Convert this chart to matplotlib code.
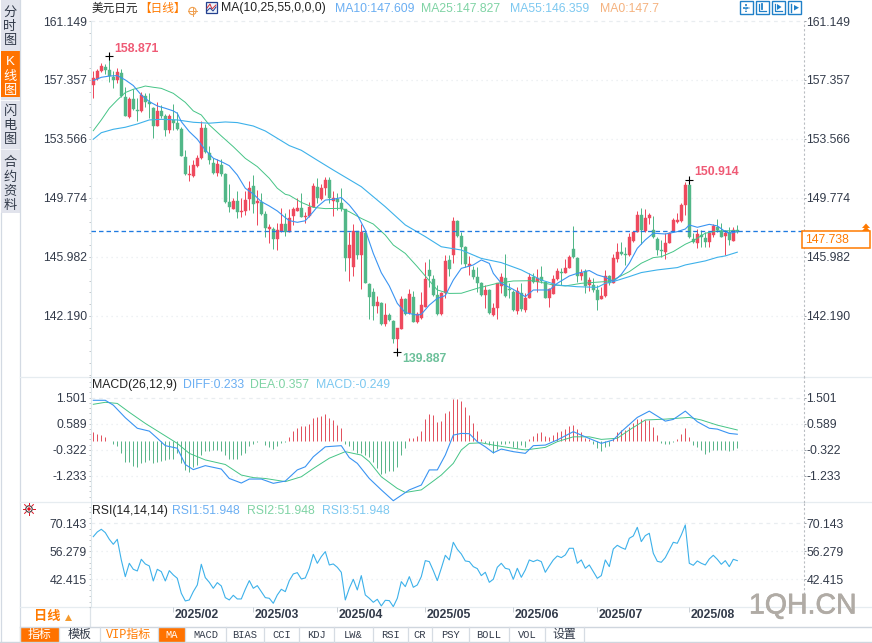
import numpy as np
import matplotlib
matplotlib.use('Agg')
import matplotlib.pyplot as plt
import matplotlib.patheffects as pe
from matplotlib.patches import Rectangle, Circle, Polygon
from matplotlib.transforms import ScaledTranslation

plt.rcParams['font.family'] = ['Liberation Sans', 'Noto Sans CJK SC', 'DejaVu Sans']
plt.rcParams['axes.unicode_minus'] = False

# ------------------------------------------------------------------ data
opens = [157.04,157.40,157.92,158.17,158.00,157.57,157.36,157.79,156.24,154.98,
 156.12,155.43,155.37,156.35,155.97,155.54,154.42,155.39,155.06,154.14,
 154.79,154.62,154.21,152.43,151.25,151.19,151.85,152.37,154.30,152.69,
 152.05,151.40,151.90,151.32,149.50,149.09,149.58,148.90,148.94,149.71,
 150.55,149.43,149.54,148.75,147.78,147.76,147.14,147.63,148.08,147.61,
 148.62,148.96,149.11,148.57,148.62,149.21,150.50,149.71,150.43,150.93,
 149.60,149.71,149.43,149.05,145.89,145.36,147.65,146.11,147.55,144.25,
 143.75,142.83,143.05,141.68,142.25,141.89,140.71,141.37,143.28,142.36,
 143.43,141.82,142.04,142.79,145.14,144.54,143.54,142.32,143.69,145.79,
 146.11,148.29,147.33,146.60,145.40,145.15,144.72,144.33,143.54,143.86,
 142.25,142.71,144.12,144.65,143.90,143.71,142.53,143.69,142.57,143.37,
 144.72,144.35,144.72,144.40,143.33,143.61,144.57,145.04,144.97,145.30,
 146.50,145.89,144.76,145.08,144.18,144.18,143.86,143.26,143.48,144.76,
 144.33,145.83,146.33,146.15,146.11,147.01,147.61,148.68,147.68,148.47,
 147.72,147.14,146.43,146.28,146.90,147.68,148.23,148.32,149.33,150.61,
 147.14,146.90,147.40,147.23,146.97,147.40,147.93,147.68,147.33,147.57,
 147.03,147.72]
closes = [157.49,157.94,158.26,158.00,157.62,157.36,157.85,156.35,155.06,156.14,
 155.49,155.39,156.39,155.97,155.82,154.40,155.37,155.04,154.14,155.06,
 154.62,154.21,152.50,151.30,151.30,151.90,152.37,154.30,152.71,152.22,
 151.40,151.96,151.32,149.54,149.22,149.58,148.90,148.94,149.65,150.44,
 149.39,149.60,148.75,147.87,147.91,147.14,147.70,148.12,147.61,148.47,
 149.05,149.11,148.53,148.62,149.21,150.54,149.75,150.43,150.93,149.75,
 149.80,149.49,149.05,145.94,146.75,147.65,146.11,147.61,144.33,143.43,
 142.83,143.11,141.68,142.25,141.94,140.69,141.44,143.28,142.32,143.58,
 141.82,142.32,142.89,144.54,144.76,143.54,142.30,143.64,145.72,145.19,
 148.29,147.33,146.60,145.53,145.53,144.67,144.33,143.54,143.86,142.36,
 142.69,144.29,144.72,143.48,143.86,142.57,143.80,142.62,143.37,144.72,
 144.35,144.65,144.44,143.37,143.91,144.57,145.08,144.93,145.30,146.00,
 145.96,144.76,144.97,144.14,144.50,143.86,143.22,143.48,144.76,144.29,
 145.90,146.33,146.18,146.11,147.25,147.61,148.68,147.72,148.47,148.68,
 147.25,146.43,146.39,146.86,147.55,148.36,148.36,149.33,150.61,147.25,
 146.97,147.44,147.25,146.97,147.55,147.98,147.72,147.29,147.50,147.08,
 147.72,147.57]
highs = [157.96,158.04,158.47,158.39,158.87,157.96,158.11,158.07,156.93,156.29,
 156.76,156.18,156.61,156.50,156.50,155.64,155.97,155.75,155.15,155.15,
 155.79,155.32,154.36,152.86,151.90,152.22,152.54,154.72,154.53,153.12,
 152.32,152.26,152.26,151.36,150.67,149.75,150.25,149.75,150.25,150.89,
 151.23,150.29,150.07,148.96,148.08,147.93,148.15,149.11,148.79,149.05,
 149.17,149.80,150.07,148.89,149.54,150.71,151.03,150.67,151.10,151.10,
 150.22,150.07,150.39,149.05,147.61,148.08,147.65,148.08,147.71,144.33,
 143.97,143.47,143.11,143.00,142.36,141.94,141.44,143.47,143.37,143.90,
 143.82,142.47,143.75,145.64,145.85,144.82,144.18,143.75,146.11,146.11,
 148.57,148.36,147.61,146.69,146.04,145.40,145.36,144.40,144.18,143.90,
 143.00,144.33,144.97,146.17,144.29,143.86,144.07,144.29,143.65,144.93,
 144.93,145.19,145.40,144.40,143.97,144.82,145.30,145.26,145.83,146.11,
 147.97,145.96,145.19,145.21,144.72,144.61,144.18,144.04,145.15,144.83,
 146.20,146.86,146.97,146.65,147.50,147.68,148.96,149.11,149.05,148.79,
 148.62,147.25,147.07,147.50,147.61,148.47,148.79,149.48,150.82,150.91,
 147.50,147.76,147.72,147.61,147.61,148.10,148.40,148.15,147.72,147.93,
 147.93,148.04]
lows = [156.22,157.36,157.87,157.74,157.25,156.87,157.14,156.29,155.06,154.94,
 155.43,154.72,155.32,155.64,154.94,153.65,154.40,154.89,153.78,153.93,
 154.14,154.14,152.47,151.25,150.89,151.15,151.79,152.28,152.64,151.96,
 151.30,151.21,151.21,149.47,148.90,149.05,148.51,148.57,148.68,149.00,
 148.79,148.04,148.68,147.29,146.90,146.50,146.43,147.61,147.33,147.61,
 148.04,148.94,148.53,148.15,148.57,149.17,149.43,149.64,149.96,149.43,
 148.64,149.00,148.96,145.08,144.44,144.76,145.85,143.93,144.29,142.00,
 141.94,142.36,141.61,141.57,141.89,140.43,139.89,141.33,142.25,142.32,
 141.78,141.76,142.00,142.75,144.07,143.48,142.26,142.26,143.32,144.76,
 145.62,147.29,145.53,145.32,144.82,144.57,143.75,143.48,142.69,142.32,
 142.21,142.00,143.65,143.43,143.33,142.53,142.30,142.53,142.47,143.33,
 144.29,143.75,144.29,143.33,142.75,143.58,144.50,144.18,144.93,145.26,
 145.92,144.40,144.50,143.69,143.82,143.76,142.58,143.26,143.43,144.18,
 144.29,145.68,146.11,145.47,146.05,146.97,147.61,146.82,147.61,148.10,
 147.18,146.11,146.00,145.83,146.86,147.61,148.19,148.25,148.68,147.18,
 146.86,146.54,146.65,146.65,146.65,147.29,147.61,147.25,146.11,146.75,
 147.01,147.50]

ma10_idx = [0,2,4,6,8,10,12,14,16,18,20,21,22,24,26,28,30,32,34,36,38,40,42,44,46,48,49,
 51,53,55,56,58,60,62,64,66,68,70,72,74,76,78,81,82,84,86,88,90,92,95,97,99,100,102,105,108,110,114,116,119,
 121,124,126,128,130,132,134,136,138,140,143,146,148,149,151,154,156,158,159,161]
ma10_val = [157.32,157.53,157.61,157.64,157.36,157.00,156.39,155.97,155.69,155.54,155.37,155.22,154.68,154.04,153.55,152.86,152.33,152.11,151.85,151.25,150.40,150.03,149.54,149.26,148.94,148.51,148.32,
 148.21,148.31,148.89,149.21,149.64,149.69,149.80,149.32,148.68,147.71,146.21,144.97,144.12,143.00,142.40,142.25,142.30,142.89,143.32,143.50,144.50,145.25,145.47,145.79,145.57,144.93,144.29,143.90,143.43,143.86,143.86,144.29,144.76,
 144.93,145.11,144.83,144.68,144.40,144.86,145.58,146.54,147.08,147.51,147.46,147.61,147.78,148.04,147.89,148.08,147.98,147.61,147.50,147.61]

ma25_idx = [0,2,4,6,8,10,12,13,15,17,20,23,25,27,29,32,35,38,41,44,46,48,49,52,55,58,62,64,67,70,73,75,78,81,83,86,89,92,96,101,105,110,115,118,122,128,130,134,137,140,142,145,148,150,153,156,161]
ma25_val = [154.10,154.79,155.54,156.07,156.55,156.76,156.89,156.97,156.89,156.82,156.50,155.92,155.37,155.11,154.47,153.76,153.07,152.32,151.79,151.04,150.40,150.01,149.95,149.49,149.17,149.09,149.11,148.89,148.46,148.10,147.39,146.75,146.21,145.36,144.76,143.86,143.64,143.65,143.97,144.29,144.44,144.46,144.18,144.12,144.29,144.40,144.51,145.04,145.58,145.94,146.00,146.33,146.80,147.03,147.51,147.66,147.67]

ma55_idx = [0,2,5,8,11,14,17,21,25,29,33,36,40,43,46,49,52,56,60,67,73,78,83,87,92,97,102,107,112,116,121,126,128,130,134,137,141,146,148,153,156,158,161]
ma55_val = [153.55,153.97,154.19,154.32,154.53,154.79,154.83,154.79,154.64,154.58,154.66,154.62,154.40,154.08,153.61,153.14,152.84,152.20,151.57,150.50,149.21,148.04,147.29,146.64,146.43,145.89,145.62,145.15,144.50,144.18,144.07,144.03,144.29,144.40,144.72,144.98,145.15,145.30,145.47,145.73,145.96,146.05,146.29]

macd_bars = [.29,.24,.19,.13,-.02,-.13,-.20,-.42,-.74,-.77,-.88,-.92,-.80,-.74,-.68,-.80,-.77,-.72,-.68,-.63,
 -.65,-.45,-.80,-1.03,-1.09,-.94,-.86,-.51,-.35,-.35,-.33,-.33,-.37,-.51,-.63,-.65,-.65,-.51,-.42,-.18,
 -.12,-.04,-.01,-.16,-.22,-.30,-.19,-.10,-.04,.13,.33,.45,.51,.51,.58,.78,.81,.87,.92,.80,
 .72,.54,.45,-.13,-.18,-.33,-.42,-.45,-.51,-.57,-.74,-.97,-1.18,-1.15,-1.07,-1.07,-.92,-.49,-.25,.08,
 .10,.16,.33,.75,.92,.89,.66,.68,.98,1.03,1.45,1.45,1.38,1.19,.89,.60,.33,.05,-.10,-.16,
 -.45,-.30,-.13,-.13,-.10,-.22,-.25,-.16,-.24,.05,.16,.27,.31,.16,.12,.19,.31,.33,.40,.52,
 .54,.39,.29,.08,.05,-.12,-.25,-.37,-.22,-.18,.08,.29,.37,.37,.48,.60,.75,.74,.72,.72,
 .48,.19,-.10,-.13,-.12,-.04,.05,.24,.45,.13,-.16,-.24,-.32,-.46,-.41,-.33,-.34,-.34,-.34,-.37,
 -.32,-.27]

diff_idx = [0,3,5,8,11,14,16,18,21,23,25,28,32,34,37,39,42,45,48,51,53,55,58,62,64,66,69,72,75,79,82,84,86,88,90,92,94,96,98,100,102,105,108,110,113,116,120,123,127,130,132,136,139,143,145,148,151,154,156,159,161]
diff_val = [1.41,1.41,1.24,.80,.43,.33,.08,-.18,-.27,-.84,-1.02,-.88,-1.00,-1.33,-1.49,-1.35,-1.35,-1.50,-1.42,-1.03,-.92,-.57,-.22,-.18,-.60,-.80,-1.33,-1.73,-2.11,-1.73,-1.56,-1.03,-1.03,-.51,.19,.25,.24,-.04,-.22,-.43,-.30,-.39,-.45,-.18,-.16,.02,.31,.13,-.10,.02,.31,.81,1.03,.68,.74,1.03,.66,.43,.40,.25,.22]

dea_idx = [0,3,6,9,13,17,21,24,28,33,37,40,43,48,52,55,59,63,67,69,72,76,78,82,85,87,90,92,94,97,100,104,108,113,116,120,124,127,131,134,138,143,149,152,156,161]
dea_val = [1.27,1.34,1.30,.99,.60,.25,-.10,-.45,-.68,-.84,-1.21,-1.30,-1.33,-1.44,-1.27,-.98,-.62,-.39,-.51,-.74,-1.27,-1.68,-1.82,-1.73,-1.42,-1.21,-.80,-.33,-.10,-.08,-.16,-.25,-.33,-.24,-.04,.13,.13,.04,.08,.37,.72,.75,.81,.72,.54,.37]

rsi_val = [63.55,65.86,67.18,65.53,62.23,59.75,62.23,52.00,43.74,50.34,47.37,46.54,52.32,50.01,49.02,41.59,47.37,46.22,41.59,46.71,
 44.57,42.91,35.49,31.69,32.19,36.31,39.62,49.85,43.24,40.93,37.96,40.77,39.12,33.34,32.19,34.50,32.68,32.68,37.47,41.76,
 37.96,39.28,36.31,33.34,33.01,30.54,34.66,37.47,36.31,41.76,45.06,45.72,42.58,43.08,47.87,54.80,50.34,53.64,56.12,49.52,
 50.01,48.36,45.89,32.19,37.96,42.42,37.14,44.24,34.66,33.01,31.03,32.52,29.22,32.02,31.86,28.89,33.01,41.26,38.79,43.74,
 38.46,39.62,43.74,51.66,51.17,46.71,41.76,47.87,54.30,52.00,60.74,57.27,54.96,51.50,51.17,48.69,47.70,44.24,45.89,40.93,
 42.42,48.36,50.34,47.87,47.37,42.42,47.87,43.41,47.04,52.00,51.17,52.00,51.17,45.89,49.02,52.00,53.97,53.15,54.47,57.77,
 57.77,50.34,52.00,47.87,49.52,46.22,42.91,44.24,52.00,48.69,57.44,59.25,58.10,57.27,62.72,63.88,68.17,61.07,64.04,65.20,
 55.29,51.33,50.84,53.15,56.94,60.74,60.25,64.37,69.32,50.34,49.35,51.50,50.34,49.52,52.49,54.30,52.32,49.85,51.66,48.69,
 52.32,51.66]

main_ticks = [161.149,157.357,153.566,149.774,145.982,142.190]
main_tick_labels = ['161.149','157.357','153.566','149.774','145.982','142.190']
macd_ticks = [1.501,0.589,-0.322,-1.233]
macd_tick_labels = ['1.501','0.589','-0.322','-1.233']
rsi_ticks = [70.143,56.279,42.415]
rsi_tick_labels = ['70.143','56.279','42.415']
date_ticks = [20,40,61,83,105,126,149]
date_labels = ['2025/02','2025/03','2025/04','2025/05','2025/06','2025/07','2025/08']
current_price = 147.66
current_label = '147.738'
tab_names = ['指标','模板','VIP指标','MA','MACD','BIAS','CCI','KDJ','LW&','RSI','CR','PSY','BOLL','VOL','设置']

# ------------------------------------------------------------------ style
W, H = 872, 643
RED, GREEN = '#ee4a5e', '#52b788'
C10, C25, C55 = '#3a94f2', '#45c486', '#3db1ea'
TXT = '#333b4a'
ORANGE = '#ff7a00'
LINE = '#e6ecf0'
FS = 8.8

fig = plt.figure(figsize=(W/100, H/100), dpi=100, facecolor='white')

def panel(top, bottom, ylim):
    ax = fig.add_axes([90.5/W, 1-bottom/H, (803.7-90.5)/W, (bottom-top)/H])
    ax.set_xlim(-0.7, 177.6)
    ax.set_ylim(*ylim)
    ax.patch.set_alpha(0)
    return ax

def style(ax, ticks, labels):
    step = abs(ticks[0]-ticks[1])
    lo, hi = ax.get_ylim()
    minors = np.arange(ticks[0]+3*step, lo, -step/5)
    minors = [m for m in minors if lo <= m <= hi]
    ax.grid(False)
    for k, t in enumerate(ticks):
        ax.axhline(t, color='#e9edf0', lw=0.9, ls=(0, (3, 3)) if k == 0 else (0, (1, 3)), zorder=0, clip_on=False)
    for s in ['top', 'bottom', 'right']:
        ax.spines[s].set_visible(False)
    ax.spines['left'].set_color('#dfe8ec')
    ax.spines['left'].set_linewidth(0.8)
    ax.set_yticks(ticks)
    ax.set_yticklabels(labels, fontsize=FS, color=TXT)
    ax.set_yticks(minors, minor=True)
    ax.tick_params(axis='y', which='major', left=True, length=1.5, width=0.7, color='#c4c8cc', pad=1.2)
    ax.tick_params(axis='y', which='minor', left=True, length=1.5, width=0.7, color='#c4c8cc')
    ax.set_xticks([])
    ax2 = ax.twinx()
    ax2.set_ylim(lo, hi)
    for s in ['top', 'bottom', 'left']:
        ax2.spines[s].set_visible(False)
    ax2.spines['right'].set_color('#b9bdc2')
    ax2.spines['right'].set_linewidth(0.8)
    ax2.spines['right'].set_linestyle((0, (1, 3)))
    ax2.set_yticks(ticks)
    ax2.set_yticklabels(labels, fontsize=FS, color=TXT)
    ax2.set_yticks(minors, minor=True)
    ax2.tick_params(axis='y', which='major', length=1.5, width=0.7, color='#9aa0a6', pad=0.5)
    ax2.tick_params(axis='y', which='minor', length=0)
    ax2.set_xticks([])
    ax2.patch.set_alpha(0)

# ------------------------------------------------------------------ main panel
ax = panel(21, 376.5, (138.30, 161.149))
style(ax, main_ticks, main_tick_labels)
idx = np.arange(len(closes))
o, h, l, c = map(np.array, (opens, highs, lows, closes))
cols = [RED if cc >= oo else GREEN for oo, cc in zip(o, c)]
ax.vlines(idx, l, h, colors=cols, lw=0.72, zorder=2)
ax.bar(idx, np.abs(c-o), bottom=np.minimum(o, c), width=0.78, color=cols, edgecolor=cols, lw=0.3, zorder=3)
ax.plot(ma10_idx, ma10_val, color=C10, lw=0.8, zorder=5)
ax.plot(ma25_idx, ma25_val, color=C25, lw=0.7, zorder=4)
ax.plot(ma55_idx, ma55_val, color=C55, lw=0.8, zorder=4)
ax.axhline(current_price, color='#1f7be0', lw=0.95, ls=(0, (3.4, 2.3)), zorder=6)
hi_i, lo_i, hi2_i = 4, 76, 149
for i, v, col, lab, dx, dy in [(hi_i, highs[hi_i], '#ef5a75', '158.871', 5, 7.5),
                               (hi2_i, highs[hi2_i], '#ef5a75', '150.914', 4.5, 8),
                               (lo_i, lows[lo_i], '#6cc09a', '139.887', 4.5, -7)]:
    ax.plot([i], [v], marker='+', color='black', ms=6, mew=0.8, zorder=7, clip_on=False)
    ax.annotate(lab, (i, v), xytext=(dx*0.72, dy*0.72), textcoords='offset points', color=col,
                fontsize=FS, fontweight='bold', va='center', ha='left', zorder=8)

# ------------------------------------------------------------------ MACD panel
mac = panel(376.5, 501.7, (-2.144, 2.244))
style(mac, macd_ticks, macd_tick_labels)
mb = np.array(macd_bars)
mac.vlines(np.arange(len(mb)), 0, mb, colors=['#e2525f' if v >= 0 else '#5ab58a' for v in mb], lw=0.72, zorder=2)
mac.plot(diff_idx, diff_val, color=C10, lw=0.8, zorder=4)
mac.plot(dea_idx, dea_val, color=C25, lw=0.7, zorder=3)

# ------------------------------------------------------------------ RSI panel
rs = panel(501.7, 607.3, (28.55, 80.84))
style(rs, rsi_ticks, rsi_tick_labels)
rs.plot(np.arange(len(rsi_val)), rsi_val, color=C55, lw=0.8, zorder=3)
rs.set_xticks(date_ticks)
rs.set_xticklabels(date_labels, fontsize=FS, fontweight='bold', color=TXT, ha='left')
rs.tick_params(axis='x', length=3.5, width=0.7, color='#c8ced4', pad=-2.0, bottom=True)
off = ScaledTranslation(1.2/100, 0, fig.dpi_scale_trans)
for t in rs.get_xticklabels():
    t.set_transform(t.get_transform() + off)

# ------------------------------------------------------------------ chrome overlay (pixel space)
bg = fig.add_axes([0, 0, 1, 1], zorder=-1)
bg.set_xlim(0, W); bg.set_ylim(H, 0); bg.axis('off')
top = fig.add_axes([0, 0, 1, 1], zorder=10)
top.set_xlim(0, W); top.set_ylim(H, 0); top.axis('off'); top.patch.set_alpha(0)

def T(x, y, s, color=TXT, fs=FS, ha='left', **kw):
    return top.text(x, y, s, color=color, fontsize=fs, ha=ha, va='center', **kw)

def R(x0, y0, x1, y1, **kw):
    bg.add_patch(Rectangle((x0, y0), x1-x0, y1-y0, **kw))

# sidebar
R(0.7, 0, 19.5, 213, fc='#e1e3ec', ec='none')
R(0.7, 51, 19.5, 97, fc='#ff7200', ec='none')
bg.plot([0.7, 19.5], [100, 100], color='white', lw=0.6)
bg.plot([0.7, 19.5], [149, 149], color='#f2f3f7', lw=0.8)
bg.plot([19.8, 19.8], [0, 643], color='#d3dae3', lw=0.9)
bg.plot([0.5, 0.5], [213, 643], color='#d3dae3', lw=0.9)
for chars, ys, col in [('分时图', (13, 27, 41), TXT), ('K线图', (62, 77, 91), 'white'),
                       ('闪电图', (112, 126, 140), TXT), ('合约资料', (163, 178, 192, 206), TXT)]:
    for ch, y in zip(chars, ys):
        T(10, y, ch, color=col, fs=9.5, ha='center')

# dividers
for y in (376.5, 501.7, 607.3):
    bg.plot([20, W], [y, y], color=LINE, lw=0.9)
bg.plot([90, 90], [607, 627], color='#dde3e8', lw=0.9)
bg.plot([20, W], [627, 627], color='#cfd6de', lw=1.0)
bg.plot([0, W], [642.3, 642.3], color='#cfd6de', lw=1.0)

# header row
T(92, 8.5, '美元日元', color='#222222', fs=8.4)
T(139, 8.5, '【日线】', color=ORANGE, fs=8.4)
top.add_patch(Circle((192.5, 11), 3.6, fc='none', ec='#f0a050', lw=0.8))
top.plot([188, 197], [11, 11], color='#f0a050', lw=0.7)
top.plot([192.5, 192.5], [6.5, 15.5], color='#f0a050', lw=0.7)
top.add_patch(Rectangle((206, 1.5), 11, 11, fc='#eef4fb', ec='#24408f', lw=0.9))
top.plot([207, 210, 212, 216], [8, 4, 9, 5], color='#d0303a', lw=0.7)
top.plot([207, 210, 213, 216], [11, 8, 11, 7], color='#24408f', lw=0.7)
T(220.5, 8.5, 'MA(10,25,55,0,0,0)', color='#222222')
T(335, 8.5, 'MA10:147.609', color='#6aaef2')
T(421, 8.5, 'MA25:147.827', color='#7fd3a4')
T(510, 8.5, 'MA55:146.359', color='#7cc8f0')
T(600, 8.5, 'MA0:147.7', color='#f5b27e')

# tool icons
icx = [739.8, 755.5, 771.5, 788]
for x in icx:
    top.add_patch(Rectangle((x, 1.2), 13, 13, fc='white', ec='#2080c8', lw=1.0))
top.plot([743, 750], [7.7, 7.7], color='#2080c8', lw=1.2, ls=(0, (1.3, 0.7)))
top.plot([746.3, 746.3], [4, 11.5], color='#2080c8', lw=1.2, ls=(0, (1.3, 0.7)))
top.plot([758.5, 758.5, 766], [3.5, 11, 11], color='#2080c8', lw=0.9)
top.plot([762, 762], [3.5, 9], color='#2080c8', lw=1.3)
top.plot([775, 775, 782], [3.5, 11, 11], color='#2080c8', lw=0.9)
top.add_patch(Polygon([(777, 4), (777, 10), (781.5, 7)], fc='#2080c8', ec='none'))
top.plot([791, 791], [3.5, 12], color='#2080c8', lw=1.0)
top.add_patch(Polygon([(794, 5), (794, 10.5), (799, 7.7)], fc='#2080c8', ec='none'))

# price tag
top.add_patch(Rectangle((802.3, 231), 68, 17.3, fc='white', ec=ORANGE, lw=1.1))
T(805, 240, current_label, color=ORANGE)
for y0 in (223.5, 226.5):
    top.add_patch(Polygon([(862, y0+4.5), (866, y0), (870, y0+4.5)], fc=ORANGE, ec='none', clip_on=False))

# panel titles
T(92, 385, 'MACD(26,12,9)', color='#222222')
T(183, 385, 'DIFF:0.233', color='#6aaef2')
T(250, 385, 'DEA:0.357', color='#7fd3a4')
T(316, 385, 'MACD:-0.249', color='#7cc8f0')
T(92, 511, 'RSI(14,14,14)', color='#222222')
T(171.5, 511, 'RSI1:51.948', color='#6aaef2')
T(247, 511, 'RSI2:51.948', color='#7fd3a4')
T(322, 511, 'RSI3:51.948', color='#7cc8f0')

# RSI sun icon
top.add_patch(Circle((29, 509), 3.2, fc='white', ec='#222222', lw=0.7))
top.add_patch(Circle((29, 509), 1.7, fc='#e01020', ec='none'))
for a in np.deg2rad(np.arange(0, 360, 45)):
    top.plot([29+4.3*np.cos(a), 29+6.2*np.cos(a)],
             [509+4.3*np.sin(a), 509+6.2*np.sin(a)], color='#e01020', lw=0.7)

# bottom-left selector
T(34, 617, '日线', color=ORANGE, fs=9.5, fontweight='bold')
top.add_patch(Polygon([(65, 621), (72, 621), (68.5, 614.5)], fc='#f59a2e', ec='none'))

# tab row
seps = [20, 59, 99.5, 157.7, 185, 226, 264, 299, 334, 373, 407.6, 432, 469, 509, 545, 584]
R(20, 627.5, 59, 642, fc='#ff7200', ec='none')
R(157.7, 627.5, 185, 642, fc='#ff7200', ec='none')
for k, name in enumerate(tab_names):
    xm = (seps[k]+seps[k+1])/2
    col = TXT
    if name in ('指标', 'MA'):
        col = 'white'
    if name == 'VIP指标':
        col = ORANGE
    if name.isascii():
        T(xm, 635, name, color=col, fs=7.5, ha='center', family=['Liberation Mono', 'DejaVu Sans Mono'])
    else:
        T(xm, 635, name, color=col, fs=8.6, ha='center', family=['Liberation Mono', 'Noto Sans CJK SC'])
for s in seps:
    bg.plot([s, s], [627, 642], color='#d6dce3', lw=0.9)

# watermark
wm = top.text(749, 606.5, '1QH.CN', fontsize=20.5, color='#b0aba5', ha='left', va='center')
wm.set_path_effects([pe.withStroke(linewidth=0.5, foreground='#b0aba5')])

fig.savefig('out.png', dpi=100, facecolor='white')
